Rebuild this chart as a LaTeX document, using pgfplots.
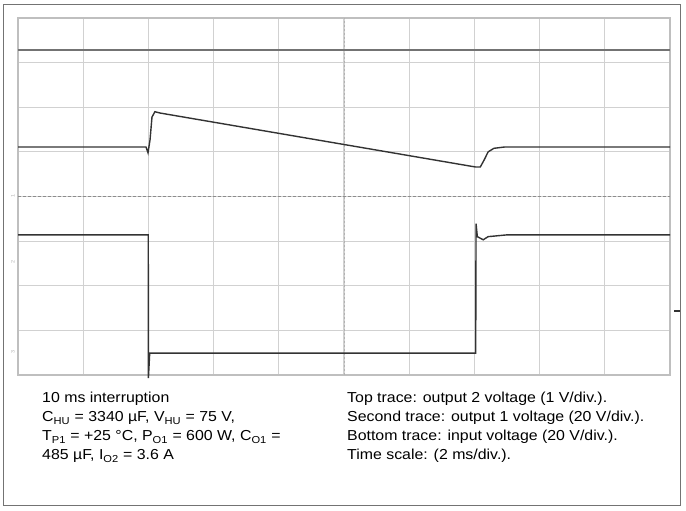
\documentclass[border=0pt]{standalone}
\usepackage{fontspec}
\setmainfont{Liberation Sans}[FakeStretch=1.1]
\usepackage{pgfplots}
\pgfplotsset{compat=1.18}
\begin{document}
\begin{tikzpicture}[x=1bp,y=1bp]
\useasboundingbox (0,0) rectangle (686,511);
% outer frame
\draw[black!55, line width=1bp] (3.5,506.5) rectangle (680,5);

\begin{axis}[
  at={(18bp,136bp)}, anchor=origin,
  width=652bp, height=357bp, scale only axis,
  xmin=0, xmax=10, ymin=0, ymax=8,
  xtick={0,...,10}, ytick={0,...,8},
  xticklabels={}, yticklabels={},
  major tick length=0pt,
  grid=major,
  major grid style={black!18, line width=1.2bp},
  axis line style={black!25, line width=1.5bp},
  clip=false,
]
% centre graticule lines
\draw[black!45, line width=0.8bp, dash pattern=on 3bp off 2bp] (axis cs:0,4) -- (axis cs:10,4);
\draw[black!30, line width=0.8bp, dash pattern=on 2bp off 2bp] (axis cs:5,0) -- (axis cs:5,8);

% top trace: output 2 voltage
\addplot[black!55, line width=2bp] coordinates {(0,7.28) (10,7.28)};

% second trace: output 1 voltage
\addplot[black!80, line width=1.4bp] coordinates {
  (0,5.11) (1.963,5.11) (1.994,4.98) (2.025,5.27) (2.055,5.78)
  (2.10,5.90) (2.18,5.87) (7.02,4.66) (7.09,4.66) (7.15,4.82)
  (7.21,5.00) (7.30,5.08) (7.47,5.11) (10,5.11)};

% bottom trace: input voltage
\addplot[black!80, line width=1.4bp] coordinates {
  (0,3.14) (1.998,3.14) (2.0,-0.07) (2.02,0.49) (7.02,0.49)
  (7.025,3.39) (7.045,3.10) (7.135,3.03) (7.21,3.10) (7.50,3.14) (10,3.14)};
\end{axis}

% channel markers
\node[black!30, font=\fontsize{5}{5}\selectfont, rotate=90] at (13,315) {1};
\node[black!30, font=\fontsize{5}{5}\selectfont, rotate=90] at (13,249) {2};
\node[black!30, font=\fontsize{5}{5}\selectfont, rotate=90] at (13,159) {3};
\draw[black!80, line width=1.5bp] (674,200) -- (680,200);

% caption text
\begin{scope}[every node/.style={anchor=base west, inner sep=0pt, font=\fontsize{14.5}{19}\selectfont}]
\node at (42,108) {10 ms interruption};
\node at (42,89) {C\textsubscript{HU} = 3340 µF, V\textsubscript{HU} = 75 V,};
\node at (42,70) {T\textsubscript{P1} = +25 °C, P\textsubscript{O1} = 600 W, C\textsubscript{O1} =};
\node at (42,51) {485 µF, I\textsubscript{O2} = 3.6 A};
\node at (347,108) {Top trace: output 2 voltage (1 V/div.).};
\node at (347,89) {Second trace: output 1 voltage (20 V/div.).};
\node at (347,70) {Bottom trace: input voltage (20 V/div.).};
\node at (347,51) {Time scale: (2 ms/div.).};
\end{scope}
\end{tikzpicture}
\end{document}
